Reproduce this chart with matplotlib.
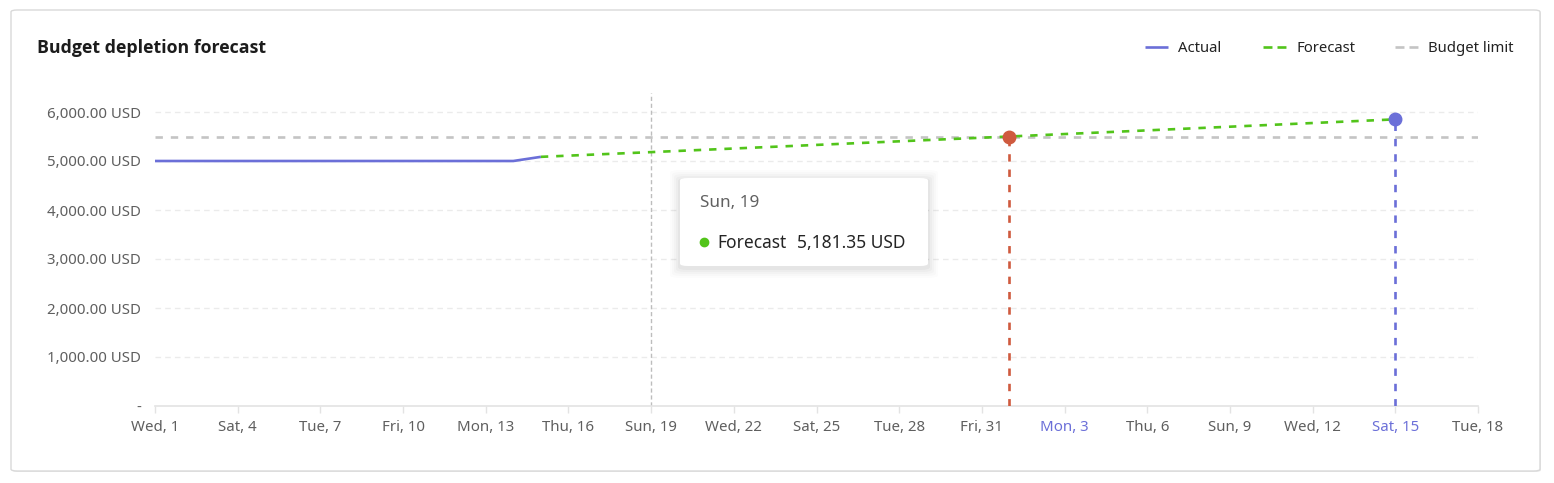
import matplotlib
matplotlib.use("Agg")
import matplotlib.pyplot as plt
from matplotlib import font_manager
from matplotlib.patches import FancyBboxPatch
from matplotlib.lines import Line2D
import pandas as pd

# ---------------- data ----------------
actual_dates = pd.to_datetime([
    "2025-01-01", "2025-01-02", "2025-01-03", "2025-01-04", "2025-01-05",
    "2025-01-06", "2025-01-07", "2025-01-08", "2025-01-09", "2025-01-10",
    "2025-01-11", "2025-01-12", "2025-01-13", "2025-01-14", "2025-01-15"])
actual_values = [5000, 5000, 5000, 5000, 5000, 5000, 5000, 5000, 5000, 5000,
                 5000, 5000, 5000, 5000, 5085]

forecast_dates = pd.to_datetime(["2025-01-15", "2025-01-19", "2025-02-01", "2025-02-15"])
forecast_values = [5085, 5181.35, 5500, 5850]

budget_limit = 5500
depletion_date = pd.Timestamp("2025-02-01")
depletion_value = 5500
end_date = pd.Timestamp("2025-02-15")
end_value = 5850

tooltip_date = pd.Timestamp("2025-01-19")
tooltip_value = 5181.35

x_start = pd.Timestamp("2025-01-01")
x_end = pd.Timestamp("2025-02-18")
tick_dates = pd.date_range(x_start, x_end, freq="3D")
highlight_ticks = [pd.Timestamp("2025-02-03"), pd.Timestamp("2025-02-15")]
y_ticks = [0, 1000, 2000, 3000, 4000, 5000, 6000]

# ---------------- style ----------------
FONT = ["Noto Sans", "DejaVu Sans"]
plt.rcParams["font.family"] = FONT

def has_bold(fam):
    for f in font_manager.fontManager.ttflist:
        if f.name == fam and (f.weight in (600, 700, "bold", "semibold") or
                              (isinstance(f.weight, int) and f.weight >= 600)):
            return True
    return False

TITLE_FONT = [f for f in ["Noto Sans", "Open Sans", "Lato", "Roboto", "DejaVu Sans"] if has_bold(f)][:1] or ["DejaVu Sans"]

C_ACTUAL = "#6b6fd8"
C_FORE = "#52c41a"
C_LIMIT = "#c4c4c4"
C_RED = "#cf5a3e"
C_TICK = "#5f5f5f"
LW = 1.9
DASH = (2.8, 3.0)

W, H = 1554, 483
fig = plt.figure(figsize=(W / 100, H / 100), dpi=100)
fig.patch.set_facecolor("white")

def px(x, y):
    return x / W, 1 - y / H

# card
shadow = FancyBboxPatch(px(12, 472), 1529 / W, 461 / H,
                        boxstyle="round,pad=0,rounding_size=0.004",
                        transform=fig.transFigure, facecolor="#e9e9e9",
                        edgecolor="none", zorder=0)
fig.add_artist(shadow)
card = FancyBboxPatch(px(11, 471), 1529 / W, 461 / H,
                      boxstyle="round,pad=0,rounding_size=0.004",
                      transform=fig.transFigure, facecolor="white",
                      edgecolor="#d9d9d9", linewidth=1, zorder=0.5)
fig.add_artist(card)

# axes
left, right, bottom, top = 155, 1478, 406, 93
ax = fig.add_axes([left / W, 1 - bottom / H, (right - left) / W, (bottom - top) / H])
ax.set_facecolor("none")
ax.set_zorder(2)

ymax = 6000 * (bottom - top) / (bottom - 112)
ax.set_ylim(0, ymax)
ax.set_xlim(x_start, x_end)

for s in ["top", "right", "left"]:
    ax.spines[s].set_visible(False)
ax.spines["bottom"].set_color("#e3e3e3")
ax.spines["bottom"].set_linewidth(1.2)

ax.set_yticks(y_ticks)
ax.set_yticklabels(["-" if v == 0 else f"{v:,.2f} USD" for v in y_ticks])
ax.tick_params(axis="y", length=0, pad=10, labelsize=10.8, labelcolor=C_TICK)
for v in y_ticks[1:]:
    ax.axhline(v, color="#ebebeb", lw=1, dashes=(4, 3), zorder=0)

ax.set_xticks(tick_dates)
ax.set_xticklabels([d.strftime("%a") + ", " + str(d.day) for d in tick_dates])
ax.tick_params(axis="x", length=5, width=1, color="#e3e3e3", pad=5,
               labelsize=10.8, labelcolor=C_TICK)
for lbl, d in zip(ax.get_xticklabels(), tick_dates):
    if d in highlight_ticks:
        lbl.set_color(C_ACTUAL)

# crosshair
ax.axvline(tooltip_date, color="#bdbdbd", lw=1, dashes=(3, 2), zorder=1)

# budget limit
ax.plot([x_start, x_end], [budget_limit, budget_limit], color=C_LIMIT, lw=LW,
        dashes=DASH, zorder=2)

# actual
ax.plot(actual_dates, actual_values, color=C_ACTUAL, lw=LW, zorder=3,
        solid_capstyle="butt")

# forecast
ax.plot(forecast_dates, forecast_values, color=C_FORE, lw=LW, dashes=DASH,
        zorder=3)

# depletion markers
ax.plot([depletion_date, depletion_date], [0, depletion_value], color=C_RED,
        lw=LW, dashes=DASH, zorder=4)
ax.plot([depletion_date], [depletion_value], "o", color=C_RED, ms=9, zorder=5)
ax.plot([end_date, end_date], [0, end_value], color=C_ACTUAL,
        lw=LW, dashes=DASH, zorder=4)
ax.plot([end_date], [end_value], "o", color=C_ACTUAL, ms=9, zorder=5)

# title
fig.text(*px(37, 48), "Budget depletion forecast", fontsize=12.8,
         family=TITLE_FONT, fontweight="bold", color="#1c1c1c",
         va="center", ha="left")

# legend
leg = [("Actual", C_ACTUAL, None, 1145),
       ("Forecast", C_FORE, (3.4, 1.9), 1263),
       ("Budget limit", C_LIMIT, (3.4, 1.9), 1395)]
for name, col, dash, x0 in leg:
    x1, y1 = px(x0, 47)
    x2, _ = px(x0 + 23, 47)
    ln = Line2D([x1, x2], [y1, y1], transform=fig.transFigure, color=col, lw=LW,
                solid_capstyle="butt", dash_capstyle="butt")
    if dash:
        ln.set_dashes(dash)
    fig.add_artist(ln)
    fig.text(*px(x0 + 33, 48), name, fontsize=10.7, color="#222222",
             va="center", ha="left")

# tooltip
for i, a in enumerate([0.03, 0.025, 0.02, 0.015, 0.01]):
    g = 2 + i * 2
    sh = FancyBboxPatch(px(680 - g, 266 + g + 2), (248 + 2 * g) / W, (88 + 2 * g) / H,
                        boxstyle="round,pad=0,rounding_size=0.006",
                        transform=fig.transFigure, facecolor="black",
                        edgecolor="none", alpha=a, zorder=9)
    fig.add_artist(sh)
tip = FancyBboxPatch(px(680, 266), 248 / W, 88 / H,
                     boxstyle="round,pad=0,rounding_size=0.005",
                     transform=fig.transFigure, facecolor="white",
                     edgecolor="none", zorder=10)
fig.add_artist(tip)
fig.text(*px(700, 203), tooltip_date.strftime("%a") + ", " + str(tooltip_date.day),
         fontsize=12.3, color="#616161", va="center", ha="left", zorder=11)
fig.add_artist(Line2D([px(704, 242)[0]], [px(704, 242)[1]], marker="o", ms=6,
                      color=C_FORE, transform=fig.transFigure, zorder=11))
fig.text(*px(717, 243), "Forecast", fontsize=12.5, color="#242424",
         va="center", ha="left", zorder=11)
fig.text(*px(797, 243), f"{tooltip_value:,.2f} USD", fontsize=12.5, color="#242424",
         va="center", ha="left", zorder=11)

fig.savefig("out.png", dpi=100, facecolor="white")
